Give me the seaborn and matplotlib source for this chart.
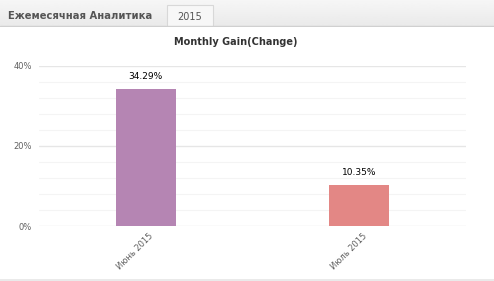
import numpy as np
import pandas as pd
import matplotlib
matplotlib.use("Agg")
import matplotlib.pyplot as plt
import seaborn as sns
from matplotlib.patches import Rectangle
from matplotlib.ticker import MultipleLocator, FuncFormatter
import matplotlib.transforms as mtransforms

months = ["Июнь 2015", "Июль 2015"]
gain = [34.29, 10.35]
colors = ["#b585b3", "#e38785"]

sns.set_style("white")
plt.rcParams["font.family"] = ["DejaVu Sans"]

W, H = 494, 281
fig = plt.figure(figsize=(W / 100, H / 100), dpi=100)

def px(x, y):
    return x / W, 1 - y / H

# header bar with gradient
hdr = fig.add_axes([0, 1 - 27 / H, 1, 27 / H])
grad = np.linspace(0.965, 0.915, 50).reshape(-1, 1)
hdr.imshow(grad, aspect="auto", cmap="gray", vmin=0, vmax=1, extent=[0, 1, 0, 1])
hdr.add_patch(Rectangle((167 / W, 0), 46 / W, 22 / 27, facecolor="#f7f7f7",
                        edgecolor="#d8d8d8", lw=0.8))
hdr.axhline(0.02, color="#d0d0d0", lw=1)
hdr.set_xlim(0, 1)
hdr.set_ylim(0, 1)
hdr.axis("off")
fig.text(*px(8, 16), "Ежемесячная Аналитика", fontsize=7.2, fontweight="bold",
         color="#555555", va="center", ha="left")
fig.text(*px(190, 17), "2015", fontsize=7, color="#555555", va="center", ha="center")

# bottom border
fig.add_artist(plt.Line2D([0, 1], [1 - 279.5 / H] * 2, color="#e6e6e6", lw=1.2))

fig.text(*px(236, 42), "Monthly Gain(Change)", fontsize=7, fontweight="bold",
         color="#333333", ha="center", va="center")

x0, x1, yb, yt = 39, 466, 226, 66
ax = fig.add_axes([x0 / W, 1 - yb / H, (x1 - x0) / W, (yb - yt) / H])

df = pd.DataFrame({"month": months, "gain": gain})
sns.barplot(data=df, x="month", y="gain", hue="month", palette=colors,
            width=0.28, legend=False, saturation=1, ax=ax, zorder=3, linewidth=0)

ax.set_xlim(-0.5, 1.5)
ax.set_ylim(0, 40)
ax.yaxis.set_major_locator(MultipleLocator(20))
ax.yaxis.set_minor_locator(MultipleLocator(4))
ax.yaxis.set_major_formatter(FuncFormatter(lambda v, p: f"{v:.0f}%"))
ax.grid(axis="y", which="major", color="#e6e6e6", lw=1, zorder=0)
ax.grid(axis="y", which="minor", color="#f4f4f4", lw=0.8, zorder=0)
for s in ax.spines.values():
    s.set_visible(False)
ax.set_xlabel("")
ax.set_ylabel("")
ax.tick_params(axis="y", which="both", length=0, labelsize=6, labelcolor="#606060", pad=5)
ax.tick_params(axis="x", length=0, labelsize=6, labelcolor="#606060", pad=4)

for lbl in ax.get_xticklabels():
    lbl.set_rotation(45)
    lbl.set_ha("right")
    lbl.set_rotation_mode("anchor")
    lbl.set_transform(lbl.get_transform() + mtransforms.ScaledTranslation(3 / 100, 0, fig.dpi_scale_trans))

for i, v in enumerate(gain):
    ax.annotate(f"{v:.2f}%", (i, v), xytext=(0, 9), textcoords="offset points",
                ha="center", va="center", fontsize=6.5, color="#000000")

fig.savefig("out.png", dpi=100)
